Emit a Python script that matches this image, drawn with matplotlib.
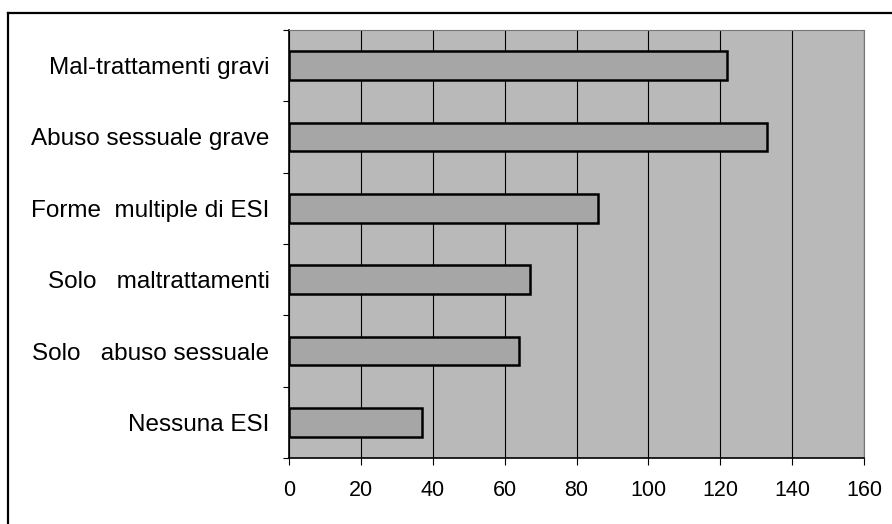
import matplotlib
matplotlib.use("Agg")
import matplotlib.pyplot as plt
from matplotlib.lines import Line2D
import numpy as np

plt.rcParams['font.family'] = ['Liberation Sans', 'DejaVu Sans']

categories = ["Mal-trattamenti gravi", "Abuso sessuale grave", "Forme  multiple di ESI",
              "Solo   maltrattamenti", "Solo   abuso sessuale", "Nessuna ESI"]
values = [122, 133, 86, 67, 64, 37]
xticks = [0, 20, 40, 60, 80, 100, 120, 140, 160]

fig = plt.figure(figsize=(8.92, 5.24), dpi=100)
fig.patch.set_facecolor('white')
W, H = 892, 524
ax = fig.add_axes([289 / W, 1 - 458 / H, (864 - 289) / W, (458 - 30) / H])
ax.set_facecolor('#b9b9b9')

n = len(categories)
ypos = np.arange(n)[::-1]
ax.barh(ypos, values, height=0.4, color='#a6a6a6', edgecolor='black', linewidth=1.8, zorder=3)

ax.set_xlim(0, 160)
ax.set_ylim(-0.5, n - 0.5)
ax.set_xticks(xticks)
ax.set_xticklabels([str(t) for t in xticks])
ax.set_yticks(ypos)
ax.set_yticklabels(categories)
ax.set_yticks(np.arange(-0.5, n, 1.0), minor=True)
ax.tick_params(axis='y', which='major', length=0, pad=14, labelsize=17.5)
ax.tick_params(axis='y', which='minor', length=4, width=0.8, direction='out')
ax.tick_params(axis='x', which='major', length=5, width=0.8, direction='out', pad=11, labelsize=15.5)
ax.xaxis.grid(True, color='black', linewidth=0.8, zorder=1)
ax.set_axisbelow(True)

for s in ['left', 'bottom']:
    ax.spines[s].set_color('black')
    ax.spines[s].set_linewidth(1.2)
for s in ['top', 'right']:
    ax.spines[s].set_color('#777777')
    ax.spines[s].set_linewidth(0.8)

# outer frame (partially visible)
fig.add_artist(Line2D([8 / W, 8 / W], [0, 1 - 13 / H], transform=fig.transFigure, color='black', linewidth=1.6))
fig.add_artist(Line2D([8 / W, 1], [1 - 13 / H, 1 - 13 / H], transform=fig.transFigure, color='black', linewidth=1.6))

fig.savefig("out.png", dpi=100)
